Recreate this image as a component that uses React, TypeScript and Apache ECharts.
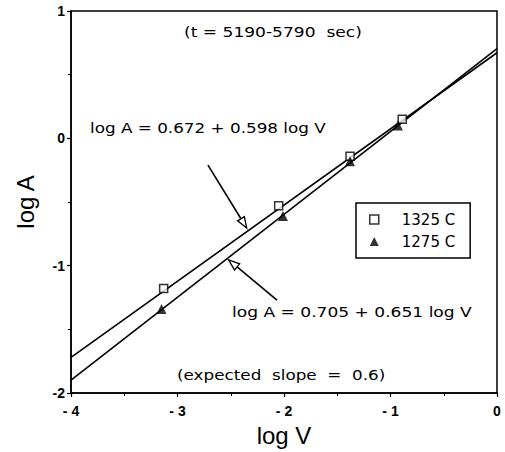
import React, { useEffect, useRef } from "react";
import * as echarts from "echarts";

// Measured points (log V, log A)
const logV1325 = [-3.13, -2.05, -1.38, -0.89];
const logA1325 = [-1.18, -0.53, -0.14, 0.15];
const logV1275 = [-3.15, -2.01, -1.38, -0.93];
const logA1275 = [-1.34, -0.61, -0.18, 0.1];

// Fitted lines: endpoints at log V = -4 and 0
const fitX = [-4, 0];
const fitUpperY = [-1.72, 0.672]; // log A = 0.672 + 0.598 log V
const fitLowerY = [-1.899, 0.705]; // log A = 0.705 + 0.651 log V

// Annotation arrows [x1, y1, x2(tip), y2(tip)] in data coords
const arrowUpper = [-2.714, -0.211, -2.35, -0.705];
const arrowLower = [-2.066, -1.27, -2.52, -0.955];

const xTicks = [-4, -3, -2, -1, 0];
const yTicks = [-2, -1, 0, 1];

const seriesNames = ["1325 C", "1275 C"];

const FONT = "DejaVu Sans";
const AXFONT = "Liberation Sans";

export default function App() {
  const ref = useRef<HTMLDivElement>(null);
  useEffect(() => {
    if (!ref.current) return;
    const chart = echarts.init(ref.current, undefined, { renderer: "svg" });
    const pts1325 = logV1325.map((v, i) => [v, logA1325[i]]);
    const pts1275 = logV1275.map((v, i) => [v, logA1275[i]]);
    const upper = fitX.map((v, i) => [v, fitUpperY[i]]);
    const lower = fitX.map((v, i) => [v, fitLowerY[i]]);

    const txt = (text: string, x: number, y: number, sx: number) => ({
      type: "text",
      x,
      y,
      scaleX: sx,
      z: 100,
      style: {
        text,
        fill: "#000",
        font: `14px "${FONT}"`,
        textAlign: "left",
        textVerticalAlign: "middle",
      },
    });

    chart.setOption({
      animation: false,
      backgroundColor: "#fff",
      grid: {
        left: 71,
        top: 11,
        width: 426,
        height: 384,
        show: true,
        borderColor: "#000",
        borderWidth: 1.5,
        backgroundColor: "transparent",
      },
      xAxis: {
        type: "value",
        min: xTicks[0],
        max: xTicks[xTicks.length - 1],
        interval: 1,
        name: "log V",
        nameLocation: "middle",
        nameGap: 30,
        nameTextStyle: { fontFamily: AXFONT, fontSize: 24, color: "#000" },
        axisLine: { show: true, onZero: false, lineStyle: { color: "#000", width: 1.5 } },
        axisTick: { show: true, length: 4, lineStyle: { color: "#000", width: 1.2 } },
        minorTick: { show: true, splitNumber: 2, length: 3, lineStyle: { color: "#000" } },
        splitLine: { show: false },
        axisLabel: {
          color: "#000",
          fontFamily: AXFONT,
          fontSize: 14,
          fontWeight: "bold",
          margin: 11,
          formatter: (v: number) => (v < 0 ? "- " + Math.abs(v) : String(v)),
        },
      },
      yAxis: {
        type: "value",
        min: yTicks[0],
        max: yTicks[yTicks.length - 1],
        interval: 1,
        name: "log A",
        nameLocation: "middle",
        nameRotate: 90,
        nameGap: 34,
        nameTextStyle: { fontFamily: AXFONT, fontSize: 24, color: "#000" },
        axisLine: { show: true, onZero: false, lineStyle: { color: "#000", width: 1.5 } },
        axisTick: { show: true, length: 4, lineStyle: { color: "#000", width: 1.2 } },
        minorTick: { show: true, splitNumber: 2, length: 3, lineStyle: { color: "#000" } },
        splitLine: { show: false },
        axisLabel: {
          color: "#000",
          fontFamily: AXFONT,
          fontSize: 14,
          fontWeight: "bold",
          margin: 6,
        },
      },
      legend: {
        data: [
          { name: seriesNames[0], icon: "rect", itemStyle: { color: "#fff", borderColor: "#000", borderWidth: 1.5 } },
          { name: seriesNames[1], icon: "triangle", itemStyle: { color: "#000" } },
        ],
        orient: "vertical",
        left: 356,
        top: 203,
        padding: [9, 15, 9, 13],
        itemWidth: 9,
        itemHeight: 9,
        itemGap: 7,
        borderColor: "#000",
        borderWidth: 1.5,
        backgroundColor: "#fff",
        textStyle: { fontFamily: FONT, fontSize: 15, color: "#000", padding: [0, 0, 0, 18] },
        selectedMode: false,
      },
      series: [
        {
          type: "line",
          data: upper,
          showSymbol: false,
          lineStyle: { color: "#000", width: 1.6 },
          silent: true,
          z: 2,
        },
        {
          type: "line",
          data: lower,
          showSymbol: false,
          lineStyle: { color: "#000", width: 1.6 },
          silent: true,
          z: 2,
        },
        {
          type: "custom",
          data: [arrowUpper, arrowLower],
          encode: { x: [0, 2], y: [1, 3] },
          z: 3,
          renderItem: (params: any, api: any) => {
            const p1 = api.coord([api.value(0), api.value(1)]);
            const p2 = api.coord([api.value(2), api.value(3)]);
            const dx = p2[0] - p1[0];
            const dy = p2[1] - p1[1];
            const len = Math.sqrt(dx * dx + dy * dy);
            const ux = dx / len;
            const uy = dy / len;
            const hl = 11;
            const hw = 4;
            const bx = p2[0] - ux * hl;
            const by = p2[1] - uy * hl;
            return {
              type: "group",
              children: [
                {
                  type: "line",
                  shape: { x1: p1[0], y1: p1[1], x2: bx, y2: by },
                  style: { stroke: "#000", lineWidth: 1.6 },
                },
                {
                  type: "polygon",
                  shape: {
                    points: [
                      [p2[0], p2[1]],
                      [bx - uy * hw, by + ux * hw],
                      [bx + uy * hw, by - ux * hw],
                    ],
                  },
                  style: { fill: "#fff", stroke: "#000", lineWidth: 1.3 },
                },
              ],
            };
          },
        },
        {
          name: seriesNames[0],
          type: "scatter",
          data: pts1325,
          symbol: "rect",
          symbolSize: 8,
          itemStyle: { color: "#fff", borderColor: "#000", borderWidth: 1.5 },
          z: 5,
        },
        {
          name: seriesNames[1],
          type: "scatter",
          data: pts1275,
          symbol: "triangle",
          symbolSize: 10,
          itemStyle: { color: "#000" },
          z: 6,
        },
      ],
      graphic: [
        txt("(t = 5190-5790  sec)", 184, 33, 1.22),
        txt("log A = 0.672 + 0.598 log V", 90, 128, 1.2),
        txt("log A = 0.705 + 0.651 log V", 232, 313, 1.22),
        txt("(expected  slope  =  0.6)", 177, 375, 1.2),
      ],
    });
    return () => chart.dispose();
  }, []);
  return (
    <div
      ref={ref}
      style={{ position: "fixed", left: 0, top: 0, width: 505, height: 452, background: "#fff" }}
    />
  );
}
